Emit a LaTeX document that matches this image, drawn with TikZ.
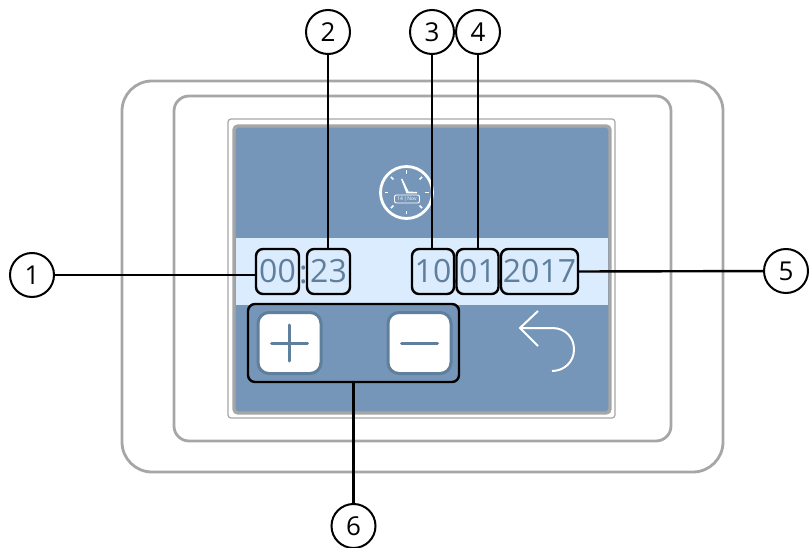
\documentclass[tikz,border=0pt]{standalone}
\usepackage{fontspec}
\usetikzlibrary{calc}
\setmainfont{Open Sans}
\definecolor{screenblue}{HTML}{7596B8}
\definecolor{bandblue}{HTML}{DAECFD}
\definecolor{digitblue}{HTML}{5F7F9C}
\definecolor{btnedge}{HTML}{5F7F9C}
\definecolor{framegray}{HTML}{A6A6A6}
\tikzset{
  frameline/.style={draw=framegray,line width=2.8pt},
  hilite/.style={draw=black,line width=2.4pt,rounded corners=7pt,inner sep=0pt,minimum height=45pt,
    text=digitblue,font=\fontsize{32}{32}\selectfont},
  callout/.style={circle,draw=black,line width=2pt,fill=white,minimum size=44pt,inner sep=0pt,
    font=\fontsize{26}{26}\selectfont},
  link/.style={draw=black,line width=2.4pt},
  btn/.style={draw=btnedge,line width=3pt,fill=white,rounded corners=11pt,minimum width=63pt,minimum height=61pt,inner sep=0pt},
  sign/.style={draw=digitblue,line width=3pt,line cap=round},
  whiteline/.style={draw=white,line width=2pt},
  sepdot/.style={inner sep=0pt,text=digitblue,font=\fontsize{32}{32}\selectfont}
}
\begin{document}
\begin{tikzpicture}[x=1pt,y=-1pt]
  \useasboundingbox (0,0) rectangle (809,548);
  \draw[frameline,rounded corners=30pt] (122,81) rectangle (723,472);
  \draw[frameline,rounded corners=15pt] (174,96) rectangle (671,441);
  \draw[draw=framegray,line width=1.2pt,rounded corners=3pt] (228,119) rectangle (615,418);
  \draw[draw=framegray,fill=screenblue,line width=3.4pt,rounded corners=4pt] (234,126) rectangle (610,413);
  \fill[bandblue] (235.7,238) rectangle (608.3,305);

  % clock
  \coordinate (clock) at (406.5,192.5);
  \draw[whiteline,line width=2.8pt] (clock) circle (26);
  \foreach \a in {0,45,...,315}
    \draw[whiteline,line width=1.5pt] ($(clock)+(\a:18.5)$) -- ($(clock)+(\a:22)$);
  \fill[white] (401,179) -- (402.5,179) -- (408.5,191.5) -- (417,192) -- (417,193.5) -- (406.5,193.5) -- cycle;
  \node[draw=white,fill=screenblue,line width=.9pt,rounded corners=2pt,minimum width=25pt,minimum height=8pt,inner sep=0pt,
    text=white,font=\fontsize{5}{5}\selectfont] (clockdate) at (407,199) {14\,|\,Nov};

  % date and time
  \node[sepdot] (colon) at (303.5,274.5) {:};
  \node[sepdot] (dotA) at (455,282) {.};
  \node[sepdot] (dotB) at (500,282) {.};
  \node[hilite,minimum width=43pt] (hours) at (277.5,271.5) {00};
  \node[hilite,minimum width=43pt] (minutes) at (328.5,271.5) {23};
  \node[hilite,minimum width=42pt] (day) at (433,271.5) {10};
  \node[hilite,minimum width=42pt] (month) at (477.5,271.5) {01};
  \node[hilite,minimum width=77pt] (year) at (539.5,271.5) {2017};

  % buttons
  \node[btn] (plus) at (289.5,343) {};
  \node[btn] (minus) at (419.5,343) {};
  \draw[sign] (plus.center) ++(-18,0) -- ++(36,0);
  \draw[sign] (plus.center) ++(0,-18) -- ++(0,36);
  \draw[sign] (minus.center) ++(-18,0) -- ++(36,0);
  \node[hilite,minimum width=211pt,minimum height=78pt] (buttons) at (353.5,343) {};
  \draw[whiteline] (538,311) -- (520,328) -- (538,346);
  \draw[whiteline] (520,328) -- (552,328) .. controls (566,328) and (574,338) .. (574,349.5)
    .. controls (574,362) and (564,371) .. (552,371);

  % callouts
  \node[callout] (c1) at (32,275) {1};
  \node[callout] (c2) at (328,32) {2};
  \node[callout] (c3) at (432,32) {3};
  \node[callout] (c4) at (478,32) {4};
  \node[callout] (c5) at (786,271) {5};
  \node[callout] (c6) at (353.5,526) {6};
  \draw[link] (c1) -- (c1 -| hours.west);
  \draw[link] (c2) -- (c2 |- minutes.north);
  \draw[link] (c3) -- (c3 |- day.north);
  \draw[link] (c4) -- (c4 |- month.north);
  \draw[link] (year.east) -- (c5);
  \draw[link] (c6) -- (buttons);
\end{tikzpicture}
\end{document}
